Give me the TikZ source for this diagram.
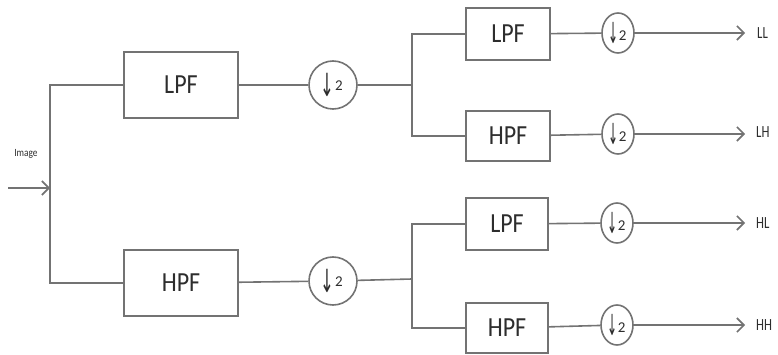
\documentclass[tikz,border=0pt]{standalone}
\usepackage{fontspec}
\setmainfont{Carlito}
\newfontfamily\arrowfont{DejaVu Sans}
\usetikzlibrary{arrows.meta,shapes.geometric}
\definecolor{wirec}{RGB}{115,115,115}
\definecolor{textc}{RGB}{45,45,45}
\tikzset{
  wire/.style={draw=wirec, line width=1.6pt},
  arr/.style={wire, -{Straight Barb[length=7pt,width=14pt,line width=1.6pt]}},
  bigbox/.style={draw=wirec, line width=1.6pt, rectangle, minimum width=114pt, minimum height=66pt, inner sep=0pt,
    text=textc, font=\fontsize{24}{24}\selectfont},
  smallbox/.style={draw=wirec, line width=1.6pt, rectangle, minimum width=84pt, minimum height=50pt, inner sep=0pt,
    text=textc, font=\fontsize{24}{24}\selectfont},
  bigdown/.style={draw=wirec, line width=1.6pt, circle, minimum size=48pt, inner sep=0pt, text=textc},
  smalldown/.style={draw=wirec, line width=1.6pt, ellipse, minimum width=32pt, minimum height=40pt, inner sep=0pt, text=textc},
  outlbl/.style={anchor=west, inner sep=0pt, text=textc, font=\fontsize{17}{17}\selectfont},
}
\newcommand{\bigdn}{\hspace{-3pt}\raisebox{-3pt}{\scalebox{0.75}[1.45]{\arrowfont\fontsize{22}{22}\selectfont ↓}}\hspace{1pt}\raisebox{3pt}{\fontsize{15}{15}\selectfont 2}}
\newcommand{\smalldn}{\hspace{-1pt}\raisebox{-2pt}{\scalebox{0.6}[1.45]{\arrowfont\fontsize{20}{20}\selectfont ↓}}\hspace{0.5pt}\raisebox{1pt}{\fontsize{15}{15}\selectfont 2}}
\begin{document}
\begin{tikzpicture}[x=1pt,y=-1pt]
\useasboundingbox (0,0) rectangle (778,355);
% input
\coordinate (in) at (8,188);
\coordinate (j0) at (50,188);
\node[inner sep=0pt, text=textc, font=\fontsize{11}{11}\selectfont] (imglbl) at (26,154) {\scalebox{0.85}[1]{Image}};
% first level
\node[bigbox] (lpf1) at (181,85) {\scalebox{1}[1.15]{LPF}};
\node[bigbox] (hpf1) at (181,283) {\scalebox{1}[1.15]{HPF}};
\node[bigdown] (d1) at (333,85) {\bigdn};
\node[bigdown] (d2) at (333,281) {\bigdn};
\coordinate (j1) at (412,85);
\coordinate (j2) at (412,279);
% second level
\node[smallbox, minimum height=52pt] (lpf2a) at (508,34) {\scalebox{1}[1.15]{LPF}};
\node[smallbox] (hpf2a) at (508,136) {\scalebox{1}[1.15]{HPF}};
\node[smallbox, minimum width=82pt, minimum height=52pt] (lpf2b) at (507,224) {\scalebox{1}[1.15]{LPF}};
\node[smallbox, minimum width=82pt] (hpf2b) at (507,328) {\scalebox{1}[1.15]{HPF}};
\node[smalldown] (d3) at (618,33) {\smalldn};
\node[smalldown] (d4) at (618,134) {\smalldn};
\node[smalldown] (d5) at (617,223) {\smalldn};
\node[smalldown] (d6) at (617,325) {\smalldn};
% outputs
\coordinate (o1) at (745,33);
\coordinate (o2) at (745,134);
\coordinate (o3) at (745,223);
\coordinate (o4) at (745,325);
\node[outlbl] (ll) at (757,33) {\scalebox{0.75}[1]{LL}};
\node[outlbl] (lh) at (756,132) {\scalebox{0.75}[1]{LH}};
\node[outlbl] (hl) at (756,223) {\scalebox{0.75}[1]{HL}};
\node[outlbl] (hh) at (756,325) {\scalebox{0.75}[1]{HH}};
% connectors
\draw[arr] (in) -- (j0);
\draw[wire] (lpf1.west) -| (j0) |- (hpf1.west);
\draw[wire] (lpf1) -- (d1);
\draw[wire] (hpf1) -- (d2);
\draw[wire] (d1) -- (j1);
\draw[wire] (d2) -- (j2);
\draw[wire] (lpf2a.west) -| (j1) |- (hpf2a.west);
\draw[wire] (lpf2b.west) -| (j2) |- (hpf2b.west);
\draw[wire] (lpf2a) -- (d3);
\draw[wire] (hpf2a) -- (d4);
\draw[wire] (lpf2b) -- (d5);
\draw[wire] (hpf2b) -- (d6);
\draw[arr] (d3) -- (o1);
\draw[arr] (d4) -- (o2);
\draw[arr] (d5) -- (o3);
\draw[arr] (d6) -- (o4);
\end{tikzpicture}
\end{document}
